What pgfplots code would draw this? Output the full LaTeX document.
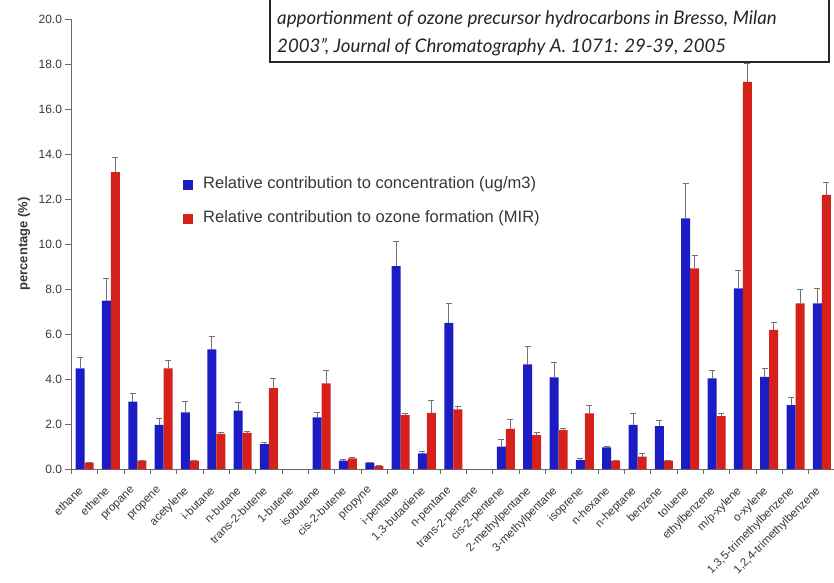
\documentclass[border=0pt]{standalone}
\usepackage{pgfplots}
\pgfplotsset{compat=1.18}
\usepackage{pgfplotstable}
\usepackage{fontspec}
\setmainfont{Liberation Sans}
\newfontfamily\titlefont{Lato}
\definecolor{barblue}{RGB}{28,28,196}
\definecolor{barred}{RGB}{214,32,26}
\definecolor{errgray}{RGB}{115,115,115}
\definecolor{axgray}{RGB}{105,105,105}
\definecolor{txt}{RGB}{55,55,55}
% concentration (blue)
\pgfplotstableread{
x v e
0 4.47 0.50
1 7.48 1.00
2 2.99 0.38
3 1.96 0.30
4 2.52 0.50
5 5.32 0.55
6 2.59 0.36
7 1.11 0.08
9 2.30 0.20
10 0.37 0.05
11 0.28 0.03
12 9.02 1.10
13 0.70 0.08
14 6.50 0.85
16 0.99 0.30
17 4.65 0.80
18 4.07 0.65
19 0.40 0.05
20 0.96 0.05
21 1.96 0.50
22 1.91 0.24
23 11.14 1.55
24 4.03 0.37
25 8.03 0.80
26 4.10 0.37
27 2.84 0.35
28 7.36 0.65
}\conc
% ozone formation (red)
\pgfplotstableread{
x v e
0 0.28 0.02
1 13.20 0.65
2 0.37 0.03
3 4.47 0.37
4 0.37 0.03
5 1.56 0.05
6 1.61 0.05
7 3.59 0.44
9 3.81 0.58
10 0.47 0.05
11 0.13 0.02
12 2.40 0.05
13 2.50 0.55
14 2.65 0.15
16 1.78 0.40
17 1.51 0.10
18 1.73 0.08
19 2.47 0.37
20 0.37 0.03
21 0.55 0.15
22 0.37 0.03
23 8.92 0.55
24 2.35 0.12
25 17.20 0.83
26 6.18 0.32
27 7.36 0.60
28 12.18 0.55
}\ozone
\begin{document}
\begin{tikzpicture}[x=1pt,y=1pt]
\useasboundingbox (0,0) rectangle (834,582);
\begin{axis}[
  at={(71.5pt,113pt)}, anchor=south west,
  scale only axis, width=763.5pt, height=450pt,
  xmin=-0.5, xmax=28.5, ymin=0, ymax=20,
  axis x line*=bottom, axis y line*=left,
  axis line style={axgray, line width=1pt},
  ybar=0pt, bar width=9pt,
  xtick={0,...,28},
  major x tick style={draw=none},
  minor xtick={-0.5,0.5,...,28.5},
  minor x tick style={axgray, line width=0.8pt},
  ytick={0,2,...,20},
  y tick style={axgray, line width=0.8pt},
  tick align=outside,
  major tick length=6pt, minor tick length=5pt,
  xticklabels={ethane, ethene, propane, propene, acetylene, i-butane, n-butane, trans-2-butene, 1-butene, isobutene, cis-2-butene, propyne, i-pentane, {1,3-butadiene}, n-pentane, trans-2-pentene, cis-2-pentene, 2-methylpentane, 3-methylpentane, isoprene, n-hexane, n-heptane, benzene, toluene, ethylbenzene, m/p-xylene, o-xylene, {1,3,5-trimethylbenzene}, {1,2,4-trimethylbenzene}},
  xticklabel style={xshift=-7pt, yshift=-9pt, rotate=45, anchor=north east, font=\fontsize{11.5}{13}\selectfont, text=txt, inner sep=1pt},
  yticklabel style={font=\fontsize{12}{14}\selectfont, text=txt, /pgf/number format/fixed, /pgf/number format/fixed zerofill, /pgf/number format/precision=1, /pgf/number format/assume math mode=true},
  ylabel={percentage (\%)},
  every axis y label/.style={at={(rel axis cs:-0.062,0.5)}, rotate=90, anchor=center, font=\bfseries\fontsize{13}{15}\selectfont, text=txt},
  legend image code/.code={\fill[#1, draw=none] (0pt,-5pt) rectangle (10pt,5pt);},
  legend style={at={(rel axis cs:0.146,0.593)}, anchor=west, draw=none, fill=none, inner sep=0pt, column sep=10pt, row sep=21pt, font=\fontsize{16.5}{18}\selectfont, text=txt, nodes={inner sep=0pt, text height=10pt, text depth=3pt}},
  legend cell align=left,
  clip=false,
]
\addplot[fill=barblue, draw=none, error bars/.cd, y dir=plus, y explicit, error bar style={errgray, line width=1pt}, error mark options={errgray, rotate=90, mark size=3pt, line width=1pt}] table[x=x, y=v, y error=e] {\conc};
\addlegendentry{Relative contribution to concentration (ug/m3)}
\addplot[fill=barred, draw=none, error bars/.cd, y dir=plus, y explicit, error bar style={errgray, line width=1pt}, error mark options={errgray, rotate=90, mark size=3pt, line width=1pt}] table[x=x, y=v, y error=e] {\ozone};
\addlegendentry{Relative contribution to ozone formation (MIR)}
\end{axis}
\draw[fill=white, draw=black!85, line width=1.2pt] (270,520) rectangle (829,600);
\node[anchor=base west, inner sep=0pt, text=black!85] at (277,557) {\titlefont\itshape\fontsize{18.7}{22}\selectfont apportionment of ozone precursor hydrocarbons in Bresso, Milan};
\node[anchor=base west, inner sep=0pt, text=black!85] at (277,529) {\titlefont\itshape\fontsize{18.7}{22}\selectfont 2003”, Journal of Chromatography A. 1071: 29-39, 2005};
\end{tikzpicture}
\end{document}
